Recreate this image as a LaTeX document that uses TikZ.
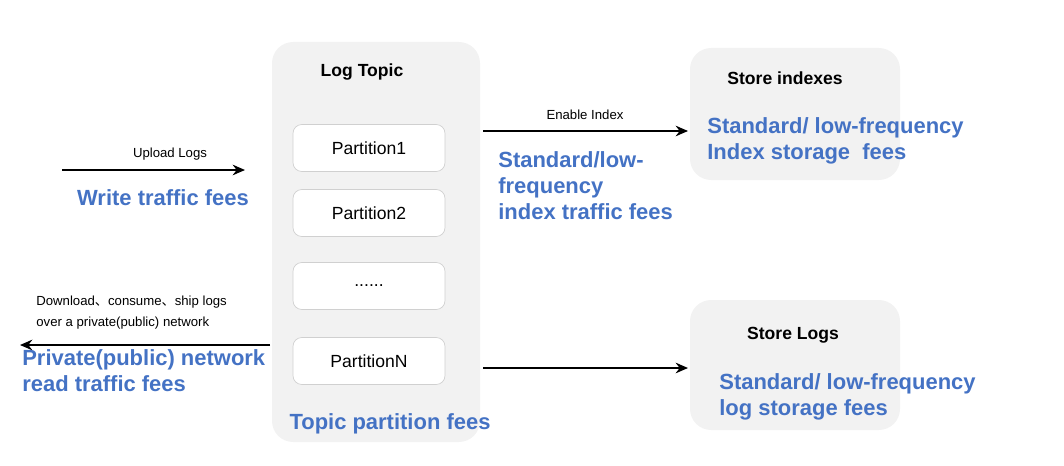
\documentclass[tikz,border=0pt]{standalone}
\usepackage{fontspec}
\setmainfont{Liberation Sans}
\newfontfamily\cjk{Noto Sans CJK SC}
\usetikzlibrary{arrows.meta}
\definecolor{feeblue}{HTML}{4472C4}
\definecolor{boxgray}{HTML}{F2F2F2}
\tikzset{panel/.style={fill=boxgray,draw=none,rounded corners=12pt},
	part/.style={fill=white,draw=boxgray!70!gray,rounded corners=5pt,minimum width=3.04cm,minimum height=0.94cm,font=\fontsize{10}{12}\selectfont},
	fee/.style={text=feeblue,font=\bfseries\fontsize{12.5}{15}\selectfont,inner sep=0pt},
	note/.style={font=\fontsize{7.5}{9}\selectfont,inner sep=0pt},
	title/.style={font=\bfseries\fontsize{10}{12}\selectfont,inner sep=0pt},
	flow/.style={-{Stealth[length=7pt,width=6pt]},line width=1.6pt}}

\begin{document}
	\begin{tikzpicture}[x=0.02cm,y=-0.02cm]
		\useasboundingbox (0,0) rectangle (1064,466);
		% panels
		\fill[panel] (272,42) rectangle (480,442);
		\fill[panel] (690,48) rectangle (900,180);
		\fill[panel] (690,300) rectangle (900,430);
		\node[title] (topic) at (362,72) {Log Topic};
		\node[title] (idx) at (785,78) {Store indexes};
		\node[title] (logs) at (793,335) {Store Logs};
		% partitions
		\node[part] (p1) at (369,148) {Partition1};
		\node[part] (p2) at (369,213) {Partition2};
		\node[part] (pd) at (369,286) {......};
		\node[part] (pn) at (369,361) {PartitionN};
		\node[fee] (tfee) at (390,424) {Topic partition fees};
		% left side
		\coordinate (upA) at (62,170);
		\coordinate (upB) at (245,170);
		\draw[flow] (upA) -- (upB);
		\node[note] (upl) at (170,154) {Upload Logs};
		\node[fee] (wfee) at (163,198) {Write traffic fees};
		\coordinate (dnA) at (270,345);
		\coordinate (dnB) at (20,345);
		\draw[flow] (dnA) -- (dnB);
		\node[note,align=left,anchor=west] (dnl) at (36,313) {Download{\cjk 、}consume{\cjk 、}ship logs\\[3pt]over a private(public) network};
		\node[fee,align=left,anchor=north west] (rfee) at (22,349) {Private(public) network\\read traffic fees};
		% right side
		\coordinate (ixA) at (483,131);
		\coordinate (ixB) at (688,131);
		\draw[flow] (ixA) -- (ixB);
		\node[note] (ixl) at (585,115) {Enable Index};
		\node[fee,align=left,anchor=north west] (ifee) at (498,151) {Standard/low-\\frequency\\index traffic fees};
		\node[fee,align=left,anchor=north west] (sfee) at (707,117) {Standard/ low-frequency\\Index storage\ \ fees};
		\coordinate (lgA) at (483,368);
		\coordinate (lgB) at (688,368);
		\draw[flow] (lgA) -- (lgB);
		\node[fee,align=left,anchor=north west] (lfee) at (719,373) {Standard/ low-frequency\\log storage fees};
	\end{tikzpicture}
\end{document}
